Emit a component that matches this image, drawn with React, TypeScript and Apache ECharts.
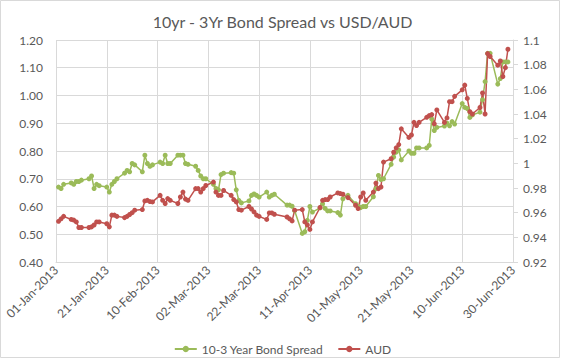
import React, { useEffect, useRef } from "react";
import * as echarts from "echarts";

const dates: string[] = [
  "2013-01-02","2013-01-03","2013-01-04","2013-01-07","2013-01-08","2013-01-09","2013-01-10","2013-01-11","2013-01-14","2013-01-15","2013-01-16","2013-01-17","2013-01-18","2013-01-21","2013-01-22","2013-01-23","2013-01-24","2013-01-25","2013-01-28","2013-01-29","2013-01-30","2013-01-31",
  "2013-02-01","2013-02-04","2013-02-05","2013-02-06","2013-02-07","2013-02-08","2013-02-11","2013-02-12","2013-02-13","2013-02-14","2013-02-15","2013-02-18","2013-02-19","2013-02-20","2013-02-21","2013-02-22","2013-02-25","2013-02-26","2013-02-27","2013-02-28",
  "2013-03-01","2013-03-04","2013-03-05","2013-03-06","2013-03-07","2013-03-08","2013-03-11","2013-03-12","2013-03-13","2013-03-14","2013-03-15","2013-03-18","2013-03-19","2013-03-20","2013-03-21","2013-03-22","2013-03-25","2013-03-26","2013-03-27","2013-03-28",
  "2013-04-02","2013-04-03","2013-04-04","2013-04-05","2013-04-08","2013-04-09","2013-04-10","2013-04-11","2013-04-12","2013-04-15","2013-04-16","2013-04-17","2013-04-18","2013-04-19","2013-04-22","2013-04-23","2013-04-24","2013-04-26","2013-04-29","2013-04-30",
  "2013-05-01","2013-05-02","2013-05-03","2013-05-06","2013-05-07","2013-05-08","2013-05-09","2013-05-10","2013-05-13","2013-05-14","2013-05-15","2013-05-16","2013-05-17","2013-05-20","2013-05-21","2013-05-22","2013-05-23","2013-05-24","2013-05-27","2013-05-28","2013-05-29","2013-05-30","2013-05-31",
  "2013-06-03","2013-06-04","2013-06-05","2013-06-06","2013-06-07","2013-06-10","2013-06-11","2013-06-12","2013-06-13","2013-06-14","2013-06-17","2013-06-18","2013-06-19","2013-06-20","2013-06-21","2013-06-24","2013-06-25","2013-06-26","2013-06-27","2013-06-28",
];

const bondSpread: number[] = [
  0.67,0.665,0.68,0.685,0.68,0.69,0.69,0.695,0.70,0.71,0.665,0.68,0.675,0.67,0.652,0.68,0.69,0.70,0.72,0.73,0.725,0.755,
  0.75,0.725,0.785,0.755,0.745,0.75,0.76,0.755,0.785,0.755,0.755,0.785,0.785,0.785,0.755,0.752,0.745,0.73,0.71,0.70,
  0.70,0.68,0.665,0.66,0.715,0.72,0.722,0.72,0.66,0.622,0.613,0.62,0.64,0.645,0.64,0.634,0.652,0.634,0.64,0.644,
  0.605,0.605,0.601,0.585,0.503,0.509,0.55,0.60,0.58,0.595,0.61,0.593,0.584,0.584,0.578,0.569,0.628,0.64,0.61,0.60,
  0.596,0.60,0.60,0.635,0.664,0.712,0.697,0.70,0.752,0.778,0.796,0.804,0.768,0.80,0.792,0.792,0.811,0.811,0.811,0.82,0.915,0.874,0.885,
  0.89,0.90,0.891,0.906,0.897,0.971,0.957,0.953,0.921,0.93,0.94,0.985,1.05,1.152,1.152,1.041,1.061,1.121,1.121,1.121,
];

const aud: number[] = [
  0.953,0.955,0.957,0.9545,0.954,0.9525,0.948,0.948,0.948,0.9485,0.95,0.9525,0.9525,0.951,0.9485,0.958,0.958,0.957,0.956,0.957,0.9585,0.96,
  0.962,0.9625,0.9695,0.97,0.969,0.9687,0.974,0.97,0.9674,0.9714,0.97,0.9674,0.9727,0.9767,0.971,0.97,0.9795,0.9795,0.9767,0.9795,
  0.982,0.9848,0.9767,0.974,0.974,0.978,0.974,0.9706,0.9687,0.9625,0.962,0.965,0.963,0.9606,0.958,0.957,0.9545,0.9598,0.9598,0.9587,
  0.9565,0.955,0.9533,0.962,0.9625,0.9525,0.95,0.9464,0.9525,0.9642,0.97,0.9706,0.9706,0.9727,0.976,0.9755,0.9749,0.9722,0.966,0.9633,
  0.9727,0.976,0.97,0.9767,0.984,0.9795,0.9808,1.001,1.0037,1.009,1.0126,1.0152,1.028,1.021,1.023,1.0332,1.0306,1.0332,1.0373,1.0387,1.0395,1.032,1.0433,
  1.0332,1.0368,1.05,1.05,1.0543,1.0596,1.0634,1.0526,1.0419,1.04,1.0453,1.057,1.04,1.089,1.0866,1.0796,1.083,1.0704,1.0776,1.0925,
];

const axisStart = "2013-01-01";
const axisEnd = "2013-06-30";
const tickDays = 20;
const monthNames = ["Jan","Feb","Mar","Apr","May","Jun","Jul","Aug","Sep","Oct","Nov","Dec"];

const DAY = 86400000;
const toUTC = (s: string) => {
  const [y, m, d] = s.split("-").map(Number);
  return Date.UTC(y, m - 1, d);
};
const startMs = toUTC(axisStart);
const dayOf = (s: string) => Math.round((toUTC(s) - startMs) / DAY);
const fmtDay = (n: number) => {
  const d = new Date(startMs + n * DAY);
  const dd = String(d.getUTCDate()).padStart(2, "0");
  return `${dd}-${monthNames[d.getUTCMonth()]}-${d.getUTCFullYear()}`;
};

const GREEN = "#9bbb59";
const RED = "#c0504d";
const TEXT = "#595959";
const GRID = "#d9d9d9";
const FONT = "Lato, 'Open Sans', sans-serif";

export default function App() {
  const ref = useRef<HTMLDivElement>(null);
  useEffect(() => {
    document.body.style.margin = "0";
    if (!ref.current) return;
    const chart = echarts.init(ref.current, undefined, { renderer: "svg" });
    const spreadData = dates.map((d, i) => [dayOf(d), bondSpread[i]]);
    const audData = dates.map((d, i) => [dayOf(d), aud[i]]);
    chart.setOption({
      animation: false,
      textStyle: { fontFamily: FONT },
      title: {
        text: "10yr - 3Yr Bond Spread vs USD/AUD",
        left: "center",
        top: 8,
        textStyle: { fontFamily: FONT, fontSize: 16, fontWeight: "normal", color: TEXT },
      },
      graphic: [
        {
          type: "rect",
          shape: { x: 0.5, y: 0.5, width: 559, height: 357 },
          style: { fill: "none", stroke: GRID, lineWidth: 1 },
          silent: true,
        },
      ],
      legend: {
        top: 338,
        left: "center",
        itemGap: 14,
        itemWidth: 22,
        itemHeight: 8,
        textStyle: { fontFamily: FONT, fontSize: 12, color: TEXT },
        data: ["10-3 Year Bond Spread", "AUD"],
      },
      grid: { left: 56, right: 52, top: 40, bottom: 99, containLabel: false },
      xAxis: {
        type: "value",
        min: 0,
        max: dayOf(axisEnd),
        interval: tickDays,
        axisLine: { show: true, lineStyle: { color: GRID } },
        axisTick: { show: false },
        splitLine: { show: true, lineStyle: { color: GRID } },
        axisLabel: {
          rotate: 45,
          margin: 6,
          fontFamily: FONT,
          fontSize: 12,
          color: TEXT,
          formatter: (v: number) => fmtDay(v),
        },
      },
      yAxis: [
        {
          type: "value",
          min: 0.4,
          max: 1.2,
          interval: 0.1,
          axisLine: { show: false },
          axisTick: { show: false },
          splitLine: { show: true, lineStyle: { color: GRID } },
          axisLabel: {
            margin: 13,
            fontFamily: FONT,
            fontSize: 12,
            color: TEXT,
            formatter: (v: number) => v.toFixed(2),
          },
        },
        {
          type: "value",
          min: 0.92,
          max: 1.1,
          interval: 0.02,
          position: "right",
          axisLine: { show: true, lineStyle: { color: GRID } },
          axisTick: { show: true, length: 5, lineStyle: { color: GRID } },
          splitLine: { show: false },
          axisLabel: {
            margin: 10,
            fontFamily: FONT,
            fontSize: 12,
            color: TEXT,
            formatter: (v: number) => String(parseFloat(v.toFixed(2))),
          },
        },
      ],
      series: [
        {
          name: "10-3 Year Bond Spread",
          type: "line",
          yAxisIndex: 0,
          data: spreadData,
          symbol: "circle",
          symbolSize: 5,
          itemStyle: { color: GREEN },
          lineStyle: { color: GREEN, width: 1.5 },
        },
        {
          name: "AUD",
          type: "line",
          yAxisIndex: 1,
          data: audData,
          symbol: "circle",
          symbolSize: 5,
          itemStyle: { color: RED },
          lineStyle: { color: RED, width: 1.5 },
        },
      ],
    });
    return () => chart.dispose();
  }, []);
  return <div ref={ref} style={{ width: 565, height: 361 }} />;
}
